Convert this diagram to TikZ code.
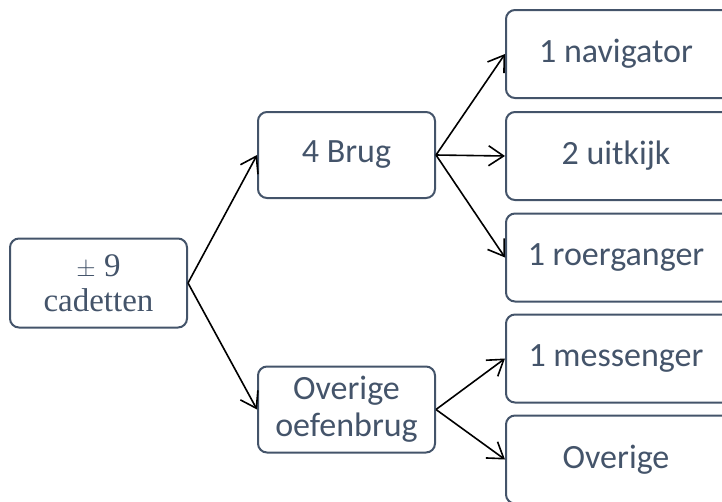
\documentclass[tikz,border=0pt]{standalone}
\usepackage{fontspec}
\setmainfont{Carlito}
\newfontfamily\serifcad{Liberation Serif}
\usetikzlibrary{arrows.meta}
\definecolor{boxcol}{RGB}{68,84,106}
\tikzset{
  box/.style={draw=boxcol, line width=2pt, rounded corners=9pt, text=boxcol,
    align=center, inner sep=0pt, font=\fontsize{34}{37}\selectfont},
  conn/.style={draw=black, line width=1.6pt, -{Straight Barb[length=15pt,width=20pt,line width=1.6pt]}}
}
\begin{document}
\begin{tikzpicture}[x=1pt,y=-1pt]
\clip (0,0) rectangle (722,501);
\node[box, minimum width=177pt, minimum height=89pt, font=\serifcad\fontsize{33}{35}\selectfont] (root) at (98.5,283) {$\pm$ 9\\cadetten};
\node[box, minimum width=177pt, minimum height=86pt] (brug) at (346.5,155) {4 Brug};
\node[box, minimum width=177pt, minimum height=86pt] (over) at (346.5,409.5) {Overige\\oefenbrug};
\node[box, minimum width=226pt, minimum height=88pt] (nav) at (619,54) {\hspace*{-6pt}1 navigator};
\node[box, minimum width=226pt, minimum height=88pt] (uit) at (619,156) {\hspace*{-6pt}2 uitkijk};
\node[box, minimum width=226pt, minimum height=88pt] (roer) at (619,257.5) {\hspace*{-6pt}1 roerganger};
\node[box, minimum width=226pt, minimum height=88pt] (mess) at (619,358.5) {\hspace*{-6pt}1 messenger};
\node[box, minimum width=226pt, minimum height=88pt] (ovr) at (619,459.5) {\hspace*{-6pt}Overige};
\draw[conn] (root.east) -- (brug.west);
\draw[conn] (root.east) -- (over.west);
\draw[conn] (brug.east) -- (nav.west);
\draw[conn] (brug.east) -- (uit.west);
\draw[conn] (brug.east) -- (roer.west);
\draw[conn] (over.east) -- (mess.west);
\draw[conn] (over.east) -- (ovr.west);
\end{tikzpicture}
\end{document}
